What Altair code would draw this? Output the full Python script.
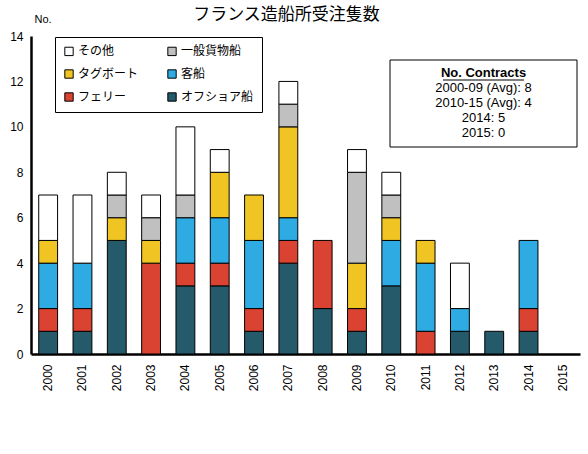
import altair as alt
import pandas as pd

years = [str(y) for y in range(2000, 2016)]
offshore = [1, 1, 5, 0, 3, 3, 1, 4, 2, 1, 3, 0, 1, 1, 1, 0]
ferry = [1, 1, 0, 4, 1, 1, 1, 1, 3, 1, 0, 1, 0, 0, 1, 0]
passenger = [2, 2, 0, 0, 2, 2, 3, 1, 0, 0, 2, 3, 1, 0, 3, 0]
tug = [1, 0, 1, 1, 0, 2, 2, 4, 0, 2, 1, 1, 0, 0, 0, 0]
cargo = [0, 0, 1, 1, 1, 0, 0, 1, 0, 4, 1, 0, 0, 0, 0, 0]
other = [2, 3, 1, 1, 3, 1, 0, 1, 0, 1, 1, 0, 2, 0, 0, 0]

series_names = ["オフショア船", "フェリー", "客船", "タグボート", "一般貨物船", "その他"]
series_values = [offshore, ferry, passenger, tug, cargo, other]
# legend is laid out column by column (3 rows x 2 columns)
legend_order = ["その他", "タグボート", "フェリー", "一般貨物船", "客船", "オフショア船"]
legend_colors = ["#ffffff", "#f0c523", "#da4232", "#c0c0c0", "#2eabe3", "#245a6a"]

box_title = "No. Contracts"
box_lines = ["2000-09 (Avg): 8", "2010-15 (Avg): 4", "2014: 5", "2015: 0"]

rows = []
for si, (name, vals) in enumerate(zip(series_names, series_values)):
    for y, v in zip(years, vals):
        rows.append({"year": y, "type": name, "count": v, "stack": si})
df = pd.DataFrame(rows)

FONT = "Liberation Sans"
JP = "Noto Sans CJK JP"

bars = alt.Chart(df).transform_filter("datum.count > 0").mark_bar(
    stroke="black", strokeWidth=1
).encode(
    x=alt.X("year:N", scale=alt.Scale(domain=years, paddingInner=0.45, paddingOuter=0.225),
            axis=alt.Axis(title=None, labelAngle=-90, labelAlign="right", labelBaseline="middle",
                          labelPadding=10, ticks=False, domainWidth=2.5, domainColor="black",
                          labelFont=FONT, labelFontSize=12, labelColor="black")),
    y=alt.Y("count:Q", stack="zero", scale=alt.Scale(domain=[0, 14]),
            axis=alt.Axis(values=list(range(0, 15, 2)), title="No.", titleAngle=0,
                          titleAlign="left", titleX=3, titleY=-12, titleFont=FONT,
                          titleFontSize=11, titleFontWeight="normal", titleColor="black",
                          ticks=False, grid=False, domainWidth=2.5, domainColor="black",
                          labelFont=FONT, labelFontSize=12, labelPadding=8, labelColor="black")),
    color=alt.Color("type:N", scale=alt.Scale(domain=legend_order, range=legend_colors),
                    legend=alt.Legend(title=None, orient="none", legendX=24, legendY=1,
                                      columns=2, columnPadding=26, rowPadding=9,
                                      symbolType="square", symbolSize=70,
                                      symbolStrokeColor="black", symbolStrokeWidth=1,
                                      labelFont=JP, labelFontSize=12, labelColor="black",
                                      labelOffset=3,
                                      padding=8, strokeColor="black", fillColor="white")),
    order=alt.Order("stack:Q", sort="ascending"),
)

box = alt.Chart(pd.DataFrame({"t": [box_title]})).mark_rect(
    fill="white", stroke="black", strokeWidth=1
).encode(x=alt.value(359), x2=alt.value(546), y=alt.value(24), y2=alt.value(111))

box_head = alt.Chart(pd.DataFrame({"t": [box_title]})).mark_text(
    font=FONT, fontSize=13, fontWeight="bold", color="black", align="center", baseline="middle"
).encode(x=alt.value(452.5), y=alt.value(37), text="t:N")

underline = alt.Chart(pd.DataFrame({"t": [box_title]})).mark_rule(
    color="black", strokeWidth=1
).encode(x=alt.value(412), x2=alt.value(493), y=alt.value(44))

box_body = alt.Chart(pd.DataFrame({"t": ["\n".join(box_lines)]})).mark_text(
    font=FONT, fontSize=13, color="black", align="center", baseline="top",
    lineBreak="\n", lineHeight=15
).encode(x=alt.value(452.5), y=alt.value(46), text="t:N")

chart = alt.layer(bars, box, box_head, underline, box_body).properties(
    width=549, height=318,
    title=alt.TitleParams("フランス造船所受注隻数", font=JP, fontSize=17, fontWeight="normal",
                          color="black", anchor="middle", offset=-11, dx=-19),
    padding={"left": 31, "top": 36, "right": 8, "bottom": 100},
    autosize=alt.AutoSizeParams(type="none"),
).configure_view(stroke=None)

chart.save("out.html", embed_options={"renderer": "svg", "actions": False})
